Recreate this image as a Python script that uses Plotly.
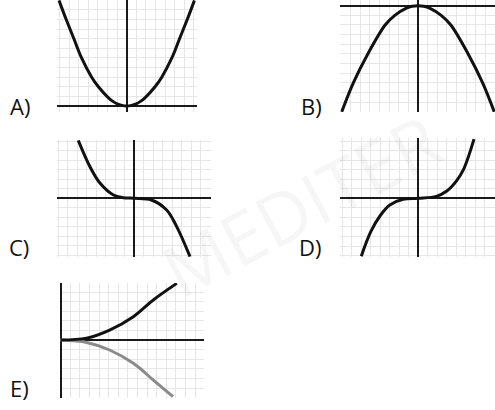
import plotly.graph_objects as go

W, H = 495, 410

# curve points, in grid cells (origin = axes crossing)
a_x = [-7.05, -6.3, -5.5, -4.7, -3.65, -2.95, -1.9, -1.4, -1.0, -0.5, 0,
       0.5, 1.0, 1.4, 1.9, 2.95, 3.65, 4.7, 5.5, 6.3, 7.05]
a_y = [11, 9, 7, 5, 3, 2, 0.85, 0.45, 0.22, 0.06, 0,
       0.06, 0.22, 0.45, 0.85, 2, 3, 5, 7, 9, 11]

b_x = [-7.9, -6.7, -5.2, -3.4, -2.4, -1.2, -0.6, 0, 0.6, 1.2, 2.4, 3.4, 5.2, 6.7, 7.9]
b_y = [-11, -8, -5, -2, -1, -0.25, -0.06, 0, -0.06, -0.25, -1, -2, -5, -8, -11]

c_x = [-5.9, -4.67, -3.6, -2.2, -1.16, 0, 1.8, 3.4, 4.46, 5.86]
c_y = [6.1, 3.33, 1.58, 0.35, 0.07, 0, -0.18, -1.23, -2.98, -6.14]

d_x = [-6.0, -5.0, -4.0, -3.0, -1.6, 0, 1.9, 3.0, 4.0, 4.75, 5.86]
d_y = [-6.07, -3.5, -1.8, -0.7, -0.1, 0, 0.2, 0.76, 1.8, 3.0, 6.2]

e_x = [0, 2.7, 5.1, 7.57, 9.65, 12.1]
e_y = [0, 0.2, 1.04, 2.43, 4.17, 5.9]

e2_x = [-0.3, 0, 2.7, 5.1, 7.57, 9.65, 11.7]
e2_y = [0, 0, -0.25, -1.04, -2.43, -4.17, -5.9]

labels = ["A)", "B)", "C)", "D)", "E)"]


def xdom(x0, x1):
    return [x0 / W, x1 / W]


def ydom(y0, y1):
    return [1 - y1 / H, 1 - y0 / H]


# panel boxes in pixels and their ranges in grid cells
panels = [
    (57, 197, 0, 112, [-7.26, 7.32], [-0.63, 11.04]),
    (340, 495, 0, 112, [-8.08, 7.98], [-11.02, 0.59]),
    (57, 211, 140, 257, [-8.14, 8.07], [-6.18, 6.14]),
    (340, 495, 138, 257, [-8.24, 8.07], [-6.15, 6.32]),
    (60, 204, 283, 398, [-0.07, 14.93], [-6.04, 5.94]),
]

fig = go.Figure()

curves = [
    (1, a_x, a_y, "#111111"),
    (2, b_x, b_y, "#111111"),
    (3, c_x, c_y, "#111111"),
    (4, d_x, d_y, "#111111"),
    (5, e2_x, e2_y, "#8a8a8a"),
    (5, e_x, e_y, "#111111"),
]
for i, xs, ys, col in curves:
    s = "" if i == 1 else str(i)
    fig.add_trace(go.Scatter(
        x=xs, y=ys, mode="lines",
        line=dict(color=col, width=3, shape="spline", smoothing=1.0),
        xaxis="x" + s, yaxis="y" + s, showlegend=False, hoverinfo="skip",
    ))

axis_style = dict(
    dtick=1, tick0=0, showgrid=True, gridcolor="#e6e6e6", gridwidth=1,
    zeroline=True, zerolinecolor="#1a1a1a", zerolinewidth=2,
    showticklabels=False, ticks="", showline=False, fixedrange=True,
)

layout = {}
for i, (x0, x1, y0, y1, xr, yr) in enumerate(panels, start=1):
    s = "" if i == 1 else str(i)
    layout["xaxis" + s] = dict(axis_style, domain=xdom(x0, x1), range=xr, anchor="y" + s)
    layout["yaxis" + s] = dict(axis_style, domain=ydom(y0, y1), range=yr, anchor="x" + s)

fig.update_layout(**layout)

label_pos = [(20, 106), (311, 106), (19, 247), (310, 247), (19, 388)]
for lab, (lx, ly) in zip(labels, label_pos):
    fig.add_annotation(
        text=lab, x=lx / W, y=1 - ly / H, xref="paper", yref="paper",
        showarrow=False, xanchor="center", yanchor="middle",
        font=dict(family="Open Sans", size=22, color="#111111"),
    )

# faint watermark
fig.add_annotation(
    text="MEDITER", x=300 / W, y=1 - 205 / H, xref="paper", yref="paper",
    showarrow=False, textangle=-28,
    font=dict(family="Open Sans", size=72, color="rgba(0,0,0,0.035)"),
)

fig.update_layout(
    width=W, height=H,
    margin=dict(l=0, r=0, t=0, b=0),
    paper_bgcolor="white", plot_bgcolor="white",
)

# drop the page's default body margin so the chart sits at (0, 0)
fig.write_html("out.html", config={"displayModeBar": False},
               post_script="document.body.style.margin='0';")
